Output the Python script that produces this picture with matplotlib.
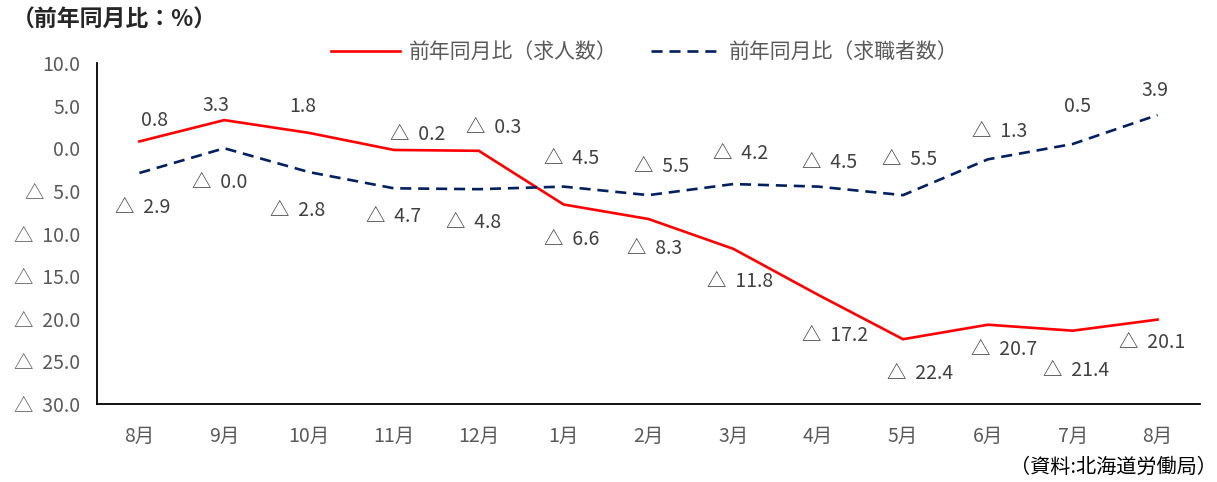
import numpy as np
import matplotlib
matplotlib.use("Agg")
import matplotlib.pyplot as plt

plt.rcParams["font.family"] = ["Noto Sans CJK JP", "DejaVu Sans"]

# 月（前年同月比）
months = ["8月", "9月", "10月", "11月", "12月", "1月", "2月", "3月", "4月", "5月", "6月", "7月", "8月"]
job_offers = [0.8, 3.3, 1.8, -0.2, -0.3, -6.6, -8.3, -11.8, -17.2, -22.4, -20.7, -21.4, -20.1]
job_seekers = [-2.9, -0.0, -2.8, -4.7, -4.8, -4.5, -5.5, -4.2, -4.5, -5.5, -1.3, 0.5, 3.9]
yticks = [10, 5, 0, -5, -10, -15, -20, -25, -30]

series_names = ["前年同月比（求人数）", "前年同月比（求職者数）"]

# data label offsets (pixels, dx, dy) for each point
offers_label_offsets = [(15, 21), (-8, 15), (-6, 26), (24, 15), (15, 23), (8, -35), (6, -29),
                        (7, -33), (17, -41), (17, -34), (16, -25), (3, -40), (-5, -23)]
seekers_label_offsets = [(3, -35), (-5, -34), (-11, -38), (0, -28), (-5, -33), (8, 28), (13, 29),
                         (7, 31), (11, 24), (7, 36), (12, 28), (5, 37), (-3, 25)]

GRAY = "#595959"
LABEL = "#404040"
RED = "#FF0000"
NAVY = "#002060"


def fmt(v):
    if v < 0 or (v == 0 and np.signbit(v)):
        return f"△  {abs(v):.1f}"
    return f"{v:.1f}"


fig = plt.figure(figsize=(12.17, 4.82), dpi=100)
ax = fig.add_axes([97 / 1217, 1 - 404 / 482, (1200 - 97) / 1217, (404 - 63) / 482])

x = np.arange(len(months))
l1, = ax.plot(x, job_offers, color=RED, lw=1.9, solid_joinstyle="miter")
l2, = ax.plot(x, job_seekers, color=NAVY, lw=1.9, dashes=(4.2, 2.6))

ax.set_xlim(-0.5, len(months) - 0.5)
ax.set_ylim(-30, 10)
ax.set_yticks(yticks)
ax.set_yticklabels([fmt(v) for v in yticks])
ax.set_xticks(x)
ax.set_xticklabels(months)
ax.tick_params(axis="y", length=0, pad=12, labelsize=14, labelcolor=GRAY)
ax.tick_params(axis="x", length=0, pad=16, labelsize=14, labelcolor=GRAY)

for s in ["top", "right"]:
    ax.spines[s].set_visible(False)
for s in ["left", "bottom"]:
    ax.spines[s].set_color("#000000")
    ax.spines[s].set_linewidth(1.3)

for xi, v, (dx, dy) in zip(x, job_offers, offers_label_offsets):
    ax.annotate(fmt(v), (xi, v), xytext=(dx, dy), textcoords="offset pixels",
                ha="center", va="center", fontsize=14, color=LABEL)
for xi, v, (dx, dy) in zip(x, job_seekers, seekers_label_offsets):
    ax.annotate(fmt(v), (xi, v), xytext=(dx, dy), textcoords="offset pixels",
                ha="center", va="center", fontsize=14, color=LABEL)

fig.legend([l1, l2], series_names, loc="center", bbox_to_anchor=(645 / 1217, 1 - 52 / 482),
           ncol=2, frameon=False, fontsize=15, labelcolor=GRAY, handlelength=3.3,
           handletextpad=0.45, columnspacing=1.6)

fig.text(12 / 1217, 1 - 20 / 482, "（前年同月比：%）", ha="left", va="center",
         fontsize=16.5, fontweight="bold", color="#262626")
fig.text(1217 / 1217, 1 - 467 / 482, "（資料:北海道労働局）", ha="right", va="center",
         fontsize=14.5, color="#000000")

fig.savefig("out.png", dpi=100)
